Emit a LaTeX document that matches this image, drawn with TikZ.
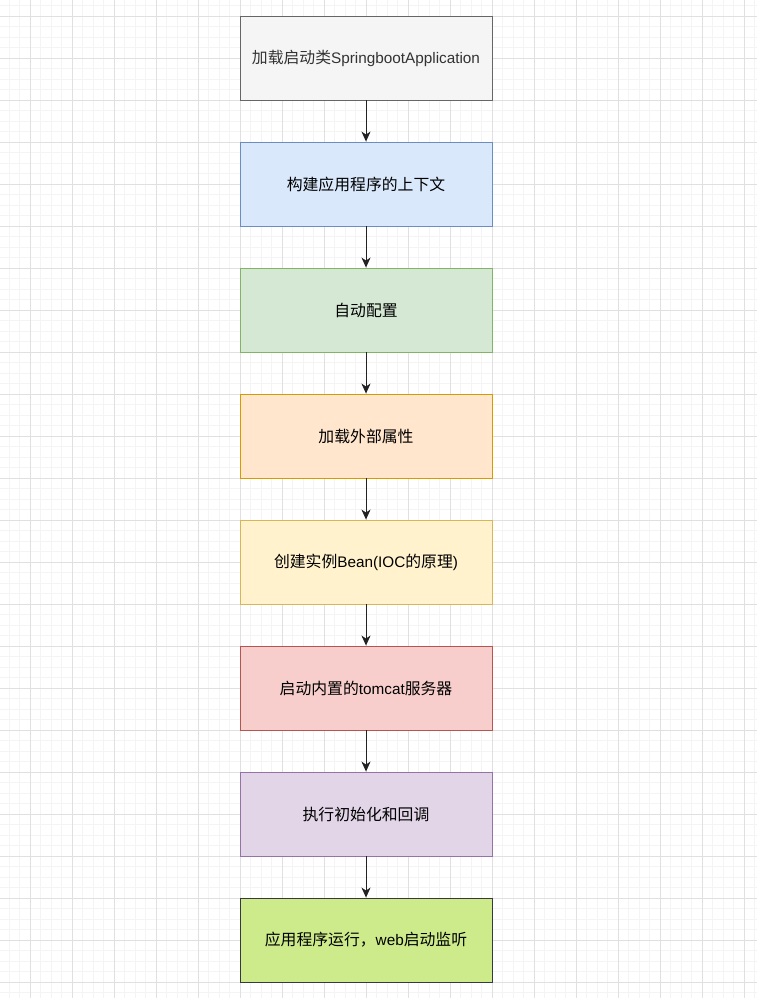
\documentclass[tikz,border=0pt]{standalone}
\usepackage{fontspec}
\setmainfont{Liberation Sans}
\newfontfamily\cjk[Scale=1.035]{Noto Sans CJK SC}
\definecolor{gridminor}{HTML}{F4F4F4}
\definecolor{gridmajor}{HTML}{E0E0E0}
\definecolor{f1}{HTML}{F5F5F5}\definecolor{s1}{HTML}{666666}
\definecolor{f2}{HTML}{DAE8FC}\definecolor{s2}{HTML}{6C8EBF}
\definecolor{f3}{HTML}{D5E8D4}\definecolor{s3}{HTML}{82B366}
\definecolor{f4}{HTML}{FFE6CC}\definecolor{s4}{HTML}{D79B00}
\definecolor{f5}{HTML}{FFF2CC}\definecolor{s5}{HTML}{D6B656}
\definecolor{f6}{HTML}{F8CECC}\definecolor{s6}{HTML}{B85450}
\definecolor{f7}{HTML}{E1D5E7}\definecolor{s7}{HTML}{9673A6}
\definecolor{f8}{HTML}{CDEB8B}\definecolor{s8}{HTML}{36393D}
\definecolor{t1}{HTML}{333333}
\definecolor{arrowc}{HTML}{222222}
\usetikzlibrary{arrows.meta}
\begin{document}
\begin{tikzpicture}[x=1pt,y=-1pt,
  stepbox/.style={draw, line width=0.9pt, minimum width=252pt, minimum height=84pt, inner sep=0pt, font=\fontsize{15.3}{18}\selectfont, text=black},
  flow/.style={draw=arrowc, line width=0.9pt, -{Stealth[length=10pt,width=9pt,inset=3pt]}},
  minorline/.style={draw=gridminor, line width=0.8pt},
  majorline/.style={draw=gridmajor, line width=0.8pt}]
\useasboundingbox[fill=white] (0,0) rectangle (757,998);
\foreach \i in {-2,...,70} {\draw[minorline] ({30+10.5*\i},0) -- ({30+10.5*\i},998);}
\foreach \i in {-1,...,94} {\draw[minorline] (0,{16+10.5*\i}) -- (757,{16+10.5*\i});}
\foreach \i in {0,...,17} {\draw[majorline] ({30+42*\i},0) -- ({30+42*\i},998);}
\foreach \i in {0,...,23} {\draw[majorline] (0,{16+42*\i}) -- (757,{16+42*\i});}
\node[stepbox, fill=f1, draw=s1, text=t1] (b1) at (366,58) {{\cjk 加载启动类}SpringbootApplication};
\node[stepbox, fill=f2, draw=s2] (b2) at (366,184) {\cjk 构建应用程序的上下文};
\node[stepbox, fill=f3, draw=s3] (b3) at (366,310) {\cjk 自动配置};
\node[stepbox, fill=f4, draw=s4] (b4) at (366,436) {\cjk 加载外部属性};
\node[stepbox, fill=f5, draw=s5] (b5) at (366,562) {{\cjk 创建实例}Bean(IOC{\cjk 的原理})};
\node[stepbox, fill=f6, draw=s6] (b6) at (366,688) {{\cjk 启动内置的}tomcat{\cjk 服务器}};
\node[stepbox, fill=f7, draw=s7] (b7) at (366,814) {\cjk 执行初始化和回调};
\node[stepbox, fill=f8, draw=s8] (b8) at (366,940) {{\cjk 应用程序运行，}web{\cjk 启动监听}};
\foreach \a/\b in {b1/b2,b2/b3,b3/b4,b4/b5,b5/b6,b6/b7,b7/b8} {\draw[flow] (\a) -- (\b);}
\end{tikzpicture}
\end{document}
